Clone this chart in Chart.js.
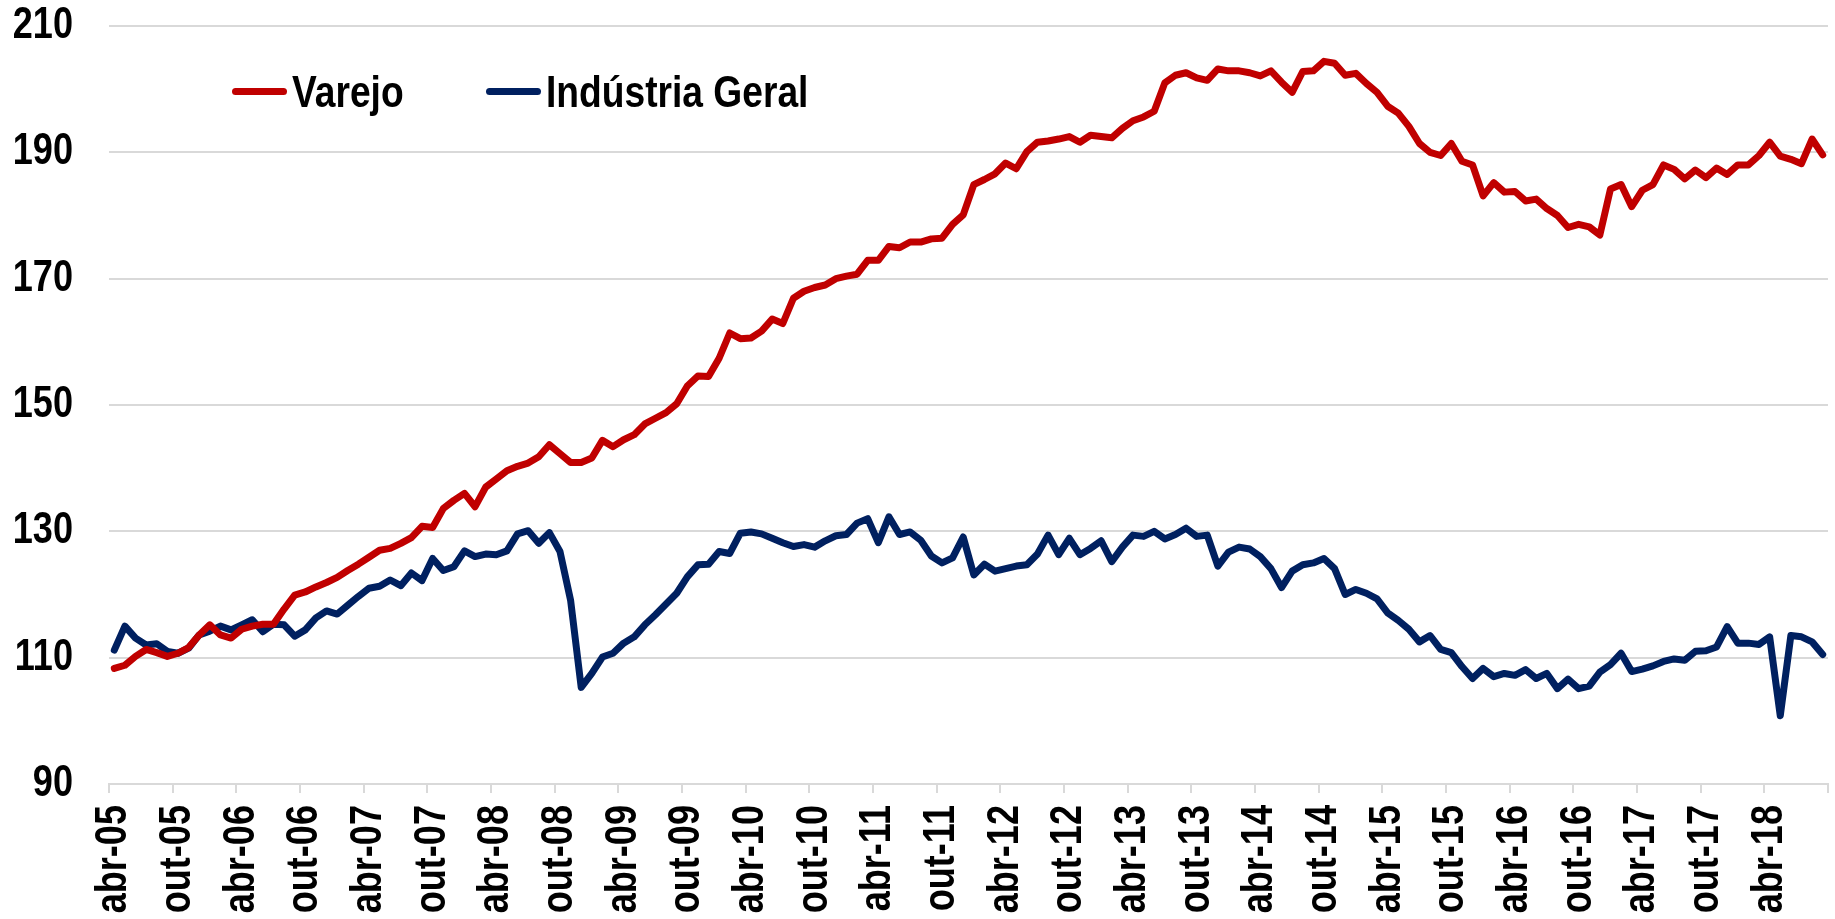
<!DOCTYPE html>
<html>
<head>
<meta charset="utf-8">
<script src="https://cdn.jsdelivr.net/npm/chart.js@4.4.1/dist/chart.umd.min.js"></script>
<style>
  html, body { margin: 0; padding: 0; background: #ffffff; }
  #wrap { position: relative; width: 1835px; height: 919px; }
  canvas { position: absolute; left: 0; top: 0; }
  .leg { position: absolute; font-family: "Liberation Sans", Arial, sans-serif; font-weight: bold; font-size: 44px; line-height: 44px; color: #000; white-space: nowrap; transform: scaleX(0.845); transform-origin: 0 0; }
  .sw { position: absolute; height: 7px; border-radius: 4px; }
</style>
</head>
<body>
<div id="wrap">
  <canvas id="c" width="1835" height="919"></canvas>
  <div class="sw" style="left:232px; top:88px; width:55px; background:#C00000;"></div>
  <div class="leg" style="left:292px; top:70px;">Varejo</div>
  <div class="sw" style="left:486px; top:88px; width:55px; background:#002060;"></div>
  <div class="leg" style="left:546px; top:70px;">Indústria Geral</div>
</div>
<script>
// Categories: monthly, abr-05 .. set-18
const monthNames = ['jan','fev','mar','abr','mai','jun','jul','ago','set','out','nov','dez'];
const categories = [];
for (let k = 0; k < 162; k++) {
  const m = (3 + k) % 12;
  const y = 5 + Math.floor((3 + k) / 12);
  categories.push(monthNames[m] + '-' + String(y).padStart(2, '0'));
}

const varejo = [
  108.3,108.8,110.2,111.3,110.8,110.2,110.7,111.6,113.6,115.2,113.6,113.1,
  114.5,115.0,115.3,115.3,117.7,119.9,120.4,121.2,121.9,122.7,123.8,124.8,
  125.9,127.0,127.3,128.1,129.0,130.8,130.6,133.6,134.9,136.0,133.9,137.0,
  138.3,139.6,140.3,140.8,141.8,143.7,142.3,140.9,140.9,141.6,144.4,143.4,
  144.5,145.3,147.0,147.9,148.8,150.2,153.0,154.6,154.5,157.4,161.4,160.5,
  160.6,161.7,163.6,162.9,166.9,168.0,168.6,169.0,170.0,170.4,170.7,172.9,
  172.9,175.1,174.9,175.8,175.8,176.3,176.4,178.6,180.1,184.9,185.7,186.6,
  188.3,187.4,190.1,191.6,191.8,192.1,192.5,191.6,192.7,192.5,192.3,193.8,
  195.0,195.6,196.5,201.0,202.2,202.6,201.8,201.4,203.2,202.9,202.9,202.6,
  202.1,202.9,201.1,199.5,202.8,202.9,204.4,204.1,202.2,202.5,200.9,199.5,
  197.3,196.2,194.1,191.4,190.0,189.5,191.4,188.6,188.0,183.1,185.2,183.7,
  183.8,182.3,182.6,181.1,180.0,178.1,178.6,178.2,176.9,184.2,184.9,181.4,
  184.0,184.9,188.0,187.3,185.8,187.2,186.0,187.5,186.5,188.0,188.0,189.5,
  191.6,189.4,188.9,188.2,192.1,189.6
];

const industriaGeral = [
  111.2,115.0,113.1,112.0,112.2,111.0,110.7,111.5,113.6,114.2,115.0,114.4,
  115.2,116.0,114.1,115.3,115.2,113.4,114.4,116.3,117.4,116.9,118.3,119.7,
  121.0,121.3,122.3,121.4,123.4,122.2,125.7,123.8,124.4,126.9,126.0,126.4,
  126.3,126.9,129.6,130.1,128.1,129.8,126.8,119.1,105.3,107.5,110.1,110.7,
  112.3,113.3,115.2,116.8,118.5,120.2,122.8,124.7,124.8,126.8,126.5,129.7,
  129.9,129.6,128.9,128.2,127.6,127.9,127.5,128.5,129.3,129.5,131.3,132.0,
  128.2,132.3,129.5,129.9,128.6,126.1,125.0,125.8,129.1,123.1,124.8,123.7,
  124.1,124.5,124.7,126.4,129.4,126.3,128.9,126.3,127.3,128.5,125.2,127.5,
  129.4,129.2,130.0,128.8,129.5,130.5,129.2,129.4,124.5,126.7,127.5,127.2,
  126.0,124.1,121.1,123.7,124.7,125.0,125.7,124.1,120.0,120.8,120.2,119.3,
  117.1,115.9,114.5,112.5,113.5,111.3,110.8,108.6,106.7,108.3,107.0,107.5,
  107.2,108.1,106.7,107.5,105.1,106.6,105.1,105.5,107.7,108.9,110.7,107.8,
  108.2,108.7,109.4,109.8,109.6,111.0,111.1,111.7,114.9,112.3,112.3,112.1,
  113.3,100.8,113.5,113.3,112.5,110.5
];

const yTicks = [90, 110, 130, 150, 170, 190, 210];
const labelEvery = 6;
const condense = 0.82;

const font = { family: '"Liberation Sans", Arial, sans-serif', size: 44, weight: 'bold' };

// Draw the library's own tick labels horizontally condensed (narrow face look)
function condenseLabels(scale) {
  if (scale._condensed) return;
  scale._condensed = true;
  const base = scale.drawLabels;
  scale.drawLabels = function (area) {
    const ctx = this.ctx;
    const origFill = ctx.fillText;
    ctx.fillText = function (t, x, y) {
      const w = ctx.measureText(t).width;
      return origFill.call(ctx, t, x, y, Math.max(1, w * condense));
    };
    try { base.call(this, area); } finally { ctx.fillText = origFill; }
  };
}

new Chart(document.getElementById('c'), {
  type: 'line',
  data: {
    labels: categories,
    datasets: [
      { label: 'Varejo', data: varejo, borderColor: '#C00000', backgroundColor: '#C00000',
        borderWidth: 7, pointRadius: 0, tension: 0, borderJoinStyle: 'round', borderCapStyle: 'round' },
      { label: 'Indústria Geral', data: industriaGeral, borderColor: '#002060', backgroundColor: '#002060',
        borderWidth: 7, pointRadius: 0, tension: 0, borderJoinStyle: 'round', borderCapStyle: 'round' }
    ]
  },
  options: {
    responsive: false,
    animation: false,
    devicePixelRatio: 1,
    layout: { padding: { left: 0, right: 7, top: 26, bottom: 0 } },
    plugins: { legend: { display: false }, tooltip: { enabled: false } },
    scales: {
      x: {
        type: 'category',
        offset: true,
        grid: {
          offset: true,
          drawOnChartArea: false,
          drawTicks: true,
          tickLength: 9,
          lineWidth: 2,
          color: (ctx) => (ctx.index === undefined || ctx.index % labelEvery === 0) ? '#d9d9d9' : 'rgba(0,0,0,0)'
        },
        border: { display: true, color: '#d9d9d9', width: 2 },
        ticks: {
          autoSkip: false,
          minRotation: 90,
          maxRotation: 90,
          padding: 12,
          color: '#000000',
          font: font,
          callback: (v, i) => (i % labelEvery === 0 ? categories[i] : '')
        },
        afterFit: (s) => { s.height = 135; s.paddingLeft = 0; s.paddingRight = 0; },
        afterUpdate: condenseLabels
      },
      y: {
        min: yTicks[0],
        max: yTicks[yTicks.length - 1],
        afterBuildTicks: (scale) => { scale.ticks = yTicks.map(v => ({ value: v })); },
        grid: { color: '#d9d9d9', lineWidth: 2, drawTicks: false },
        border: { display: false },
        ticks: { padding: 36, color: '#000000', font: font },
        afterFit: (s) => { s.width = 109; s.paddingTop = 0; s.paddingBottom = 0; },
        afterUpdate: condenseLabels
      }
    }
  }
});
</script>
</body>
</html>
